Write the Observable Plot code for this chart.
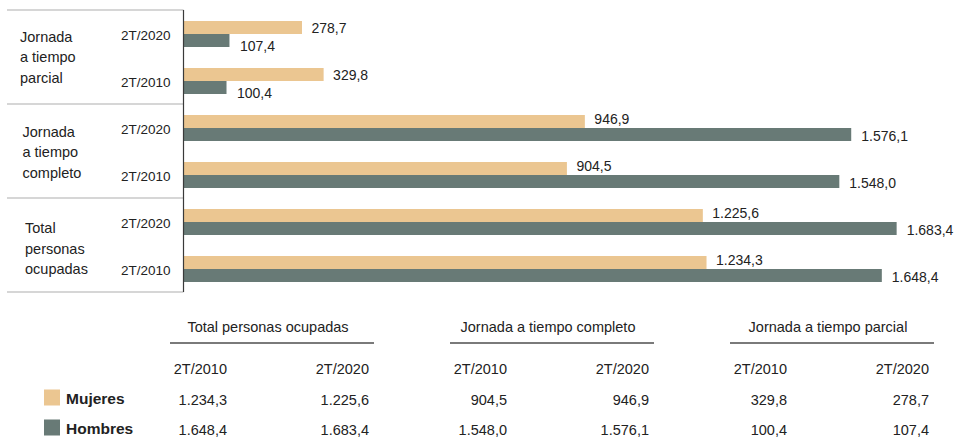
<!DOCTYPE html>
<html>
<head>
<meta charset="utf-8">
<script src="https://cdn.jsdelivr.net/npm/d3@7"></script>
<script src="https://cdn.jsdelivr.net/npm/@observablehq/plot@0.6"></script>
<style>
html, body { margin: 0; padding: 0; background: #fff; }
#chart { width: 960px; height: 441px; }
</style>
</head>
<body>
<div id="chart"></div>
<script>
// ---- data (table order) ----
const tableGroups = ["Total personas ocupadas", "Jornada a tiempo completo", "Jornada a tiempo parcial"];
const chartGroupLabels = ["Total\npersonas\nocupadas", "Jornada\na tiempo\ncompleto", "Jornada\na tiempo\nparcial"];
const periods = ["2T/2010", "2T/2020"];
const sexes = ["Mujeres", "Hombres"];
const mujeres2010 = [1234.3, 904.5, 329.8];
const mujeres2020 = [1225.6, 946.9, 278.7];
const hombres2010 = [1648.4, 1548.0, 100.4];
const hombres2020 = [1683.4, 1576.1, 107.4];
const colors = ["#EBC691", "#687A76"];

const FONT = "'Liberation Sans', Arial, Helvetica, sans-serif";
const TEXT = "#222";
const fmt = d3.formatLocale({decimal: ",", thousands: ".", grouping: [3], currency: ["", ""]}).format(",.1f");

function val(sex, period, gi) {
  if (sex === "Mujeres") return period === "2T/2010" ? mujeres2010[gi] : mujeres2020[gi];
  return period === "2T/2010" ? hombres2010[gi] : hombres2020[gi];
}

// chart order: parcial, completo, total; within each 2T/2020 then 2T/2010
const chartGroupOrder = [2, 1, 0];
const chartPeriodOrder = [periods[1], periods[0]];
const rows = [];
const rowLabels = [];
const data = [];
for (const gi of chartGroupOrder) {
  for (const p of chartPeriodOrder) {
    const key = gi + "|" + p;
    rows.push(key);
    rowLabels.push({row: key, period: p});
    for (const s of sexes) data.push({row: key, group: gi, period: p, sex: s, value: val(s, p, gi)});
  }
}

const isParcial = d => d.group === 2;
const muj = data.filter(d => d.sex === "Mujeres");
const hom = data.filter(d => d.sex === "Hombres");
const labelOpts = {fy: "row", y: "sex", x: "value", text: d => fmt(d.value), textAnchor: "start", fontSize: 14, fill: TEXT};

const plot = Plot.plot({
  width: 960,
  height: 441,
  marginTop: 8,
  marginBottom: 147,
  marginLeft: 184,
  marginRight: 14,
  style: {fontFamily: FONT, background: "#fff", overflow: "visible"},
  x: {domain: [0, 1800], axis: null},
  y: {domain: sexes, padding: 0, axis: null},
  fy: {domain: rows, paddingInner: 0.425, paddingOuter: 0.2125, axis: null},
  color: {domain: sexes, range: colors},
  marks: [
    Plot.barX(data, {fy: "row", y: "sex", x: "value", fill: "sex"}),
    Plot.text(muj.filter(isParcial), {...labelOpts, dx: 9, dy: 1}),
    Plot.text(muj.filter(d => !isParcial(d)), {...labelOpts, dx: 9, dy: -2}),
    Plot.text(hom.filter(isParcial), {...labelOpts, dx: 10, dy: 6}),
    Plot.text(hom.filter(d => !isParcial(d)), {...labelOpts, dx: 9.5, dy: 1.5}),
    Plot.text(rowLabels, {fy: "row", frameAnchor: "left", text: "period", textAnchor: "end", dx: -14, dy: 1.5, fontSize: 13.5, fill: TEXT})
  ]
});

const svgEl = plot.tagName.toLowerCase() === "svg" ? plot : plot.querySelector("svg");
document.getElementById("chart").appendChild(plot);
const svg = d3.select(svgEl);

// ---- overlay: separators, axis line, group labels (positions from Plot's fy scale) ----
const fyS = plot.scale("fy");
const band = d3.scaleBand()
  .domain(fyS.domain)
  .range(fyS.range)
  .paddingInner(fyS.paddingInner ?? 0.425)
  .paddingOuter(fyS.paddingOuter ?? 0.2125)
  .align(fyS.align ?? 0.5)
  .round(!!fyS.round);
const halfGap = band.step() * band.paddingInner() / 2;
const xS = plot.scale("x");
const x0 = xS.range[0];

const overlay = svg.append("g").attr("text-anchor", "start");
const sepYs = [];
chartGroupOrder.forEach(gi => sepYs.push(band(gi + "|" + chartPeriodOrder[0]) - halfGap));
const lastRow = rows[rows.length - 1];
sepYs.push(band(lastRow) + band.bandwidth() + halfGap);

overlay.selectAll("line.sep").data(sepYs).join("line")
  .attr("x1", 7).attr("x2", x0 - 0.5)
  .attr("y1", d => d).attr("y2", d => d)
  .attr("stroke", "#c9c9c9").attr("stroke-width", 1.6);

overlay.append("line")
  .attr("x1", x0 - 0.5).attr("x2", x0 - 0.5)
  .attr("y1", sepYs[0]).attr("y2", sepYs[sepYs.length - 1])
  .attr("stroke", "#3a3a3a").attr("stroke-width", 1.2);

const groupLabelX = [25, 22.5, 20];
const groupLabelDy = [8.5, 6, 5];
chartGroupOrder.forEach(gi => {
  const top = band(gi + "|" + chartPeriodOrder[0]);
  const bot = band(gi + "|" + chartPeriodOrder[1]) + band.bandwidth();
  const mid = (top + bot) / 2 + groupLabelDy[gi];
  const lines = chartGroupLabels[gi].split("\n");
  const t = overlay.append("text")
    .attr("font-family", FONT).attr("font-size", 14.5).attr("fill", TEXT).attr("text-anchor", "start");
  lines.forEach((ln, i) => {
    t.append("tspan").attr("x", groupLabelX[gi]).attr("y", mid + (i - 1) * 20.5).text(ln);
  });
});

// ---- table below ----
const table = svg.append("g").attr("font-family", FONT).attr("fill", TEXT).attr("text-anchor", "start");
const colStart = 170, colStep = 280, colWidth = 204;
const yHeader = 331.5, yRule = 343, ySub = 373.5, yRows = [405, 435];
tableGroups.forEach((g, gi) => {
  const s = colStart + gi * colStep;
  table.append("text").attr("x", s + 98).attr("y", yHeader).attr("text-anchor", "middle")
    .attr("font-size", 14.5).text(g);
  table.append("line").attr("x1", s).attr("x2", s + colWidth).attr("y1", yRule).attr("y2", yRule)
    .attr("stroke", "#7a7a7a").attr("stroke-width", 2);
  const colRight = [s + 57, s + 199];
  periods.forEach((p, pi) => {
    table.append("text").attr("x", colRight[pi]).attr("y", ySub).attr("text-anchor", "end")
      .attr("font-size", 14.5).text(p);
    sexes.forEach((sx, si) => {
      table.append("text").attr("x", colRight[pi]).attr("y", yRows[si]).attr("text-anchor", "end")
        .attr("font-size", 14.5).text(fmt(val(sx, p, gi)));
    });
  });
});
sexes.forEach((sx, si) => {
  table.append("rect").attr("x", 44).attr("y", yRows[si] - 15.5).attr("width", 16).attr("height", 16)
    .attr("fill", colors[si]);
  table.append("text").attr("x", 66).attr("y", yRows[si] - 1).attr("font-size", 15.5)
    .attr("text-anchor", "start").attr("font-weight", "bold").text(sx);
});
</script>
</body>
</html>
